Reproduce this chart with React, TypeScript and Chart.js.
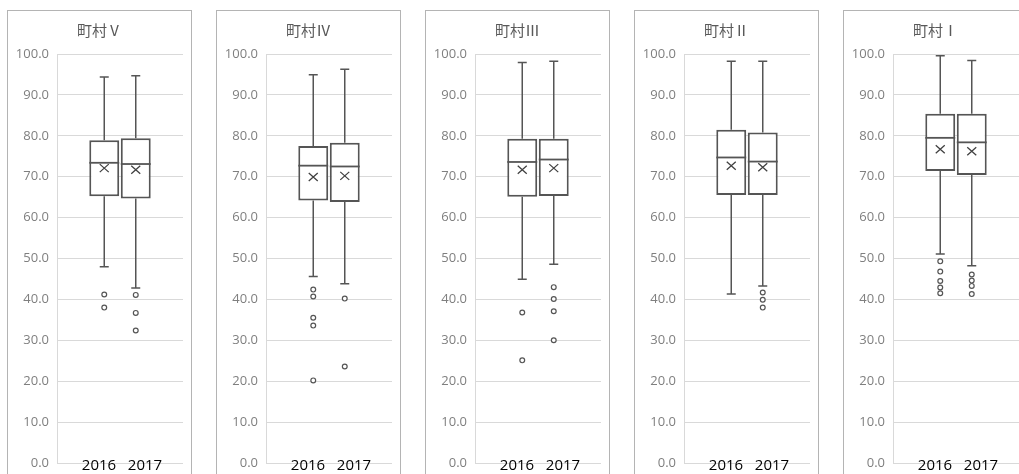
import React, { useEffect, useRef } from "react";
import { Chart, registerables } from "chart.js";

Chart.register(...registerables);

const categories = ["町村Ⅴ", "町村Ⅳ", "町村Ⅲ", "町村Ⅱ", "町村Ⅰ"];
const years = ["2016", "2017"];
const yTicks = [0, 10, 20, 30, 40, 50, 60, 70, 80, 90, 100];

const min2016 = [48.0, 45.6, 44.9, 41.3, 51.1];
const q1_2016 = [65.2, 64.2, 65.1, 65.5, 71.4];
const median2016 = [73.4, 72.7, 73.6, 74.7, 79.5];
const q3_2016 = [78.9, 77.5, 79.3, 81.5, 85.4];
const max2016 = [94.4, 94.9, 97.9, 98.2, 99.6];
const mean2016 = [72.1, 69.9, 71.7, 72.7, 76.7];
const outliers2016 = [
  [41.2, 38.0],
  [42.4, 40.7, 35.5, 33.6, 20.2],
  [36.8, 25.1],
  [],
  [49.3, 46.8, 44.5, 42.9, 41.5],
];

const min2017 = [42.8, 43.8, 48.6, 43.3, 48.2];
const q1_2017 = [64.7, 63.8, 65.3, 65.5, 70.4];
const median2017 = [73.1, 72.5, 74.2, 73.7, 78.4];
const q3_2017 = [79.4, 78.3, 79.3, 80.8, 85.4];
const max2017 = [94.7, 96.3, 98.2, 98.2, 98.4];
const mean2017 = [71.7, 70.2, 72.1, 72.3, 76.2];
const outliers2017 = [
  [41.1, 36.7, 32.4],
  [40.2, 23.6],
  [43.0, 40.1, 37.1, 30.0],
  [41.7, 39.9, 38.0],
  [46.1, 44.6, 43.3, 41.3],
];

const STROKE = "#555555";

type BoxStat = { min: number; q1: number; med: number; q3: number; max: number; mean: number; out: number[] };

function statsFor(i: number): BoxStat[] {
  return [
    { min: min2016[i], q1: q1_2016[i], med: median2016[i], q3: q3_2016[i], max: max2016[i], mean: mean2016[i], out: outliers2016[i] },
    { min: min2017[i], q1: q1_2017[i], med: median2017[i], q3: q3_2017[i], max: max2017[i], mean: mean2017[i], out: outliers2017[i] },
  ];
}

const boxPlugin = {
  id: "boxExtras",
  afterDatasetsDraw(chart: any) {
    const ctx = chart.ctx as CanvasRenderingContext2D;
    const y = chart.scales.y;
    const stats: BoxStat[] = chart.options.plugins.boxExtras.stats;
    const title: string = chart.options.plugins.boxExtras.title;
    const area = chart.chartArea;
    ctx.save();
    stats.forEach((s, di) => {
      const bar = chart.getDatasetMeta(di).data[0] as any;
      const x = bar.x;
      const w = bar.width;
      ctx.strokeStyle = STROKE;
      ctx.lineWidth = 1.5;
      ctx.beginPath();
      ctx.moveTo(x, y.getPixelForValue(s.q3));
      ctx.lineTo(x, y.getPixelForValue(s.max));
      ctx.moveTo(x - 4.5, y.getPixelForValue(s.max));
      ctx.lineTo(x + 4.5, y.getPixelForValue(s.max));
      ctx.moveTo(x, y.getPixelForValue(s.q1));
      ctx.lineTo(x, y.getPixelForValue(s.min));
      ctx.moveTo(x - 4.5, y.getPixelForValue(s.min));
      ctx.lineTo(x + 4.5, y.getPixelForValue(s.min));
      ctx.stroke();
      ctx.lineWidth = 1.8;
      ctx.beginPath();
      ctx.moveTo(x - w / 2, y.getPixelForValue(s.med));
      ctx.lineTo(x + w / 2, y.getPixelForValue(s.med));
      ctx.stroke();
      // mean cross
      const my = y.getPixelForValue(s.mean);
      ctx.strokeStyle = "#404040";
      ctx.lineWidth = 1.3;
      ctx.beginPath();
      ctx.moveTo(x - 4.5, my - 4);
      ctx.lineTo(x + 4.5, my + 4);
      ctx.moveTo(x + 4.5, my - 4);
      ctx.lineTo(x - 4.5, my + 4);
      ctx.stroke();
      // outliers
      ctx.strokeStyle = STROKE;
      ctx.fillStyle = "#ffffff";
      ctx.lineWidth = 1.2;
      s.out.forEach((v) => {
        ctx.beginPath();
        ctx.arc(x, y.getPixelForValue(v), 2.4, 0, Math.PI * 2);
        ctx.fill();
        ctx.stroke();
      });
    });
    // title
    ctx.fillStyle = "#595959";
    ctx.font = '15px "Noto Sans CJK JP"';
    ctx.textAlign = "center";
    ctx.textBaseline = "middle";
    ctx.fillText(title, chart.width / 2, 19);
    // year labels
    const cx = (area.left + area.right) / 2;
    ctx.fillStyle = "#000000";
    ctx.font = '15px "Open Sans"';
    ctx.textBaseline = "top";
    ctx.fillText(years[0], cx - 21, area.bottom - 5);
    ctx.fillText(years[1], cx + 25, area.bottom - 5);
    ctx.restore();
  },
};

function Panel({ index }: { index: number }) {
  const ref = useRef<HTMLCanvasElement | null>(null);
  useEffect(() => {
    if (!ref.current) return;
    const stats = statsFor(index);
    const chart = new Chart(ref.current, {
      type: "bar",
      data: {
        labels: [""],
        datasets: stats.map((s, di) => ({
          label: years[di],
          data: [[s.q1, s.q3]] as any,
          backgroundColor: "#ffffff",
          borderColor: STROKE,
          borderWidth: 2,
          borderSkipped: false,
          categoryPercentage: 0.5,
          barPercentage: 0.95,
        })),
      },
      options: {
        responsive: false,
        animation: false,
        layout: { padding: { top: 43, right: 8, bottom: 38, left: 0 } },
        plugins: {
          legend: { display: false },
          tooltip: { enabled: false },
          title: { display: false },
          boxExtras: { stats, title: categories[index] },
        } as any,
        scales: {
          x: { display: false },
          y: {
            min: 0,
            max: 100,
            afterFit: (s: any) => {
              s.width = 49;
            },
            afterBuildTicks: (s: any) => {
              s.ticks = yTicks.map((v) => ({ value: v }));
            },
            ticks: {
              callback: (v: any) => Number(v).toFixed(1),
              color: "#7f7f7f",
              font: { family: "Open Sans", size: 13 },
              padding: 8,
            },
            grid: { color: "#d9d9d9", drawTicks: false },
            border: { color: "#d9d9d9" },
          },
        },
      },
      plugins: [boxPlugin],
    });
    return () => chart.destroy();
  }, [index]);
  return (
    <div
      style={{
        position: "absolute",
        left: 7 + index * 209,
        top: 10,
        width: 185,
        height: 500,
        boxSizing: "border-box",
        border: "1px solid #b4b4b4",
        background: "#fff",
      }}
    >
      <canvas ref={ref} width={183} height={490} style={{ display: "block" }} />
    </div>
  );
}

export default function App() {
  return (
    <div>
      {categories.map((c, i) => (
        <Panel key={c} index={i} />
      ))}
    </div>
  );
}
